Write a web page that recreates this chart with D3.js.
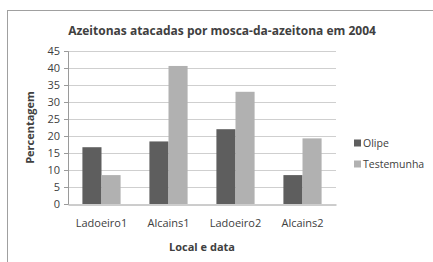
<!DOCTYPE html>
<html>
<head>
<meta charset="utf-8">
<style>
  body { margin: 0; background: #fff; }
  text { font-family: "Open Sans", sans-serif; fill: #404040; }
</style>
</head>
<body>
<script src="https://d3js.org/d3.v7.min.js"></script>
<script>
var width = 433, height = 262;

// data
var categories = ["Ladoeiro1", "Alcains1", "Ladoeiro2", "Alcains2"];
var seriesNames = ["Olipe", "Testemunha"];
var olipe = [16.7, 18.4, 22.0, 8.5];
var testemunha = [8.5, 40.6, 33.0, 19.3];
var yTicks = [0, 5, 10, 15, 20, 25, 30, 35, 40, 45];
var colors = ["#5e5e5e", "#b1b1b1"];

var rows = categories.map(function(c, i) {
  return { cat: c, values: [olipe[i], testemunha[i]] };
});

var margin = { left: 68, right: 97, top: 51, bottom: 58 };

var svg = d3.select("body").append("svg")
    .attr("width", width)
    .attr("height", height);

// outer frame
svg.append("rect")
    .attr("x", 7.5).attr("y", 10.5)
    .attr("width", 440).attr("height", 260)
    .attr("fill", "#fff")
    .attr("stroke", "#a0a0a0");

var x = d3.scaleBand()
    .domain(categories)
    .range([margin.left, width - margin.right])
    .paddingInner(0.43).paddingOuter(0.215);

var x1 = d3.scaleBand()
    .domain(seriesNames)
    .range([0, x.bandwidth()]);

var y = d3.scaleLinear()
    .domain([0, 45])
    .range([height - margin.bottom, margin.top]);

// gridlines
svg.append("g")
  .selectAll("line")
  .data(yTicks.slice(1))
  .enter().append("line")
    .attr("x1", margin.left).attr("x2", width - margin.right)
    .attr("y1", function(d) { return Math.round(y(d)) + 0.5; })
    .attr("y2", function(d) { return Math.round(y(d)) + 0.5; })
    .attr("stroke", "#cfcfcf");

// y axis
var yAxis = svg.append("g")
    .attr("transform", "translate(" + margin.left + ",0)")
    .call(d3.axisLeft(y).tickValues(yTicks).tickSize(4).tickPadding(4));
yAxis.select(".domain").attr("stroke", "#9a9a9a");
yAxis.selectAll(".tick line").attr("stroke", "#9a9a9a");
yAxis.selectAll("text").style("font-size", "11px").attr("fill", "#404040");

// bars
svg.append("g")
  .selectAll("g")
  .data(rows)
  .enter().append("g")
    .attr("transform", function(d) { return "translate(" + x(d.cat) + ",0)"; })
  .selectAll("rect")
  .data(function(d) { return d.values.map(function(v, i) { return { s: seriesNames[i], v: v, i: i }; }); })
  .enter().append("rect")
    .attr("x", function(d) { return x1(d.s); })
    .attr("width", x1.bandwidth())
    .attr("y", function(d) { return y(d.v); })
    .attr("height", function(d) { return y(0) - y(d.v); })
    .attr("fill", function(d) { return colors[d.i]; });

// x axis
var xAxis = svg.append("g")
    .attr("transform", "translate(0," + (Math.round(y(0)) + 0.5) + ")")
    .call(d3.axisBottom(x).tickSize(0).tickPadding(15));
xAxis.select(".domain").attr("stroke", "#9a9a9a");
xAxis.selectAll("text").style("font-size", "11px").attr("fill", "#404040");

// title
svg.append("text")
    .attr("x", 222).attr("y", 35)
    .attr("text-anchor", "middle")
    .style("font-size", "12px").style("font-weight", "bold")
    .text("Azeitonas atacadas por mosca-da-azeitona em 2004");

// axis titles
svg.append("text")
    .attr("x", (margin.left + width - margin.right) / 2).attr("y", 251)
    .attr("text-anchor", "middle")
    .style("font-size", "11px").style("font-weight", "bold")
    .text("Local e data");

svg.append("text")
    .attr("transform", "translate(34," + ((margin.top + height - margin.bottom) / 2) + ") rotate(-90)")
    .attr("text-anchor", "middle")
    .style("font-size", "11px").style("font-weight", "bold")
    .text("Percentagem");

// legend
var legend = svg.append("g")
  .selectAll("g")
  .data(seriesNames)
  .enter().append("g")
    .attr("transform", function(d, i) { return "translate(354," + (143 + i * 21) + ")"; });
legend.append("rect")
    .attr("x", 0).attr("y", -3.5)
    .attr("width", 7).attr("height", 7)
    .attr("fill", function(d, i) { return colors[i]; });
legend.append("text")
    .attr("x", 9).attr("y", 4)
    .style("font-size", "10.5px")
    .text(function(d) { return d; });
</script>
</body>
</html>
